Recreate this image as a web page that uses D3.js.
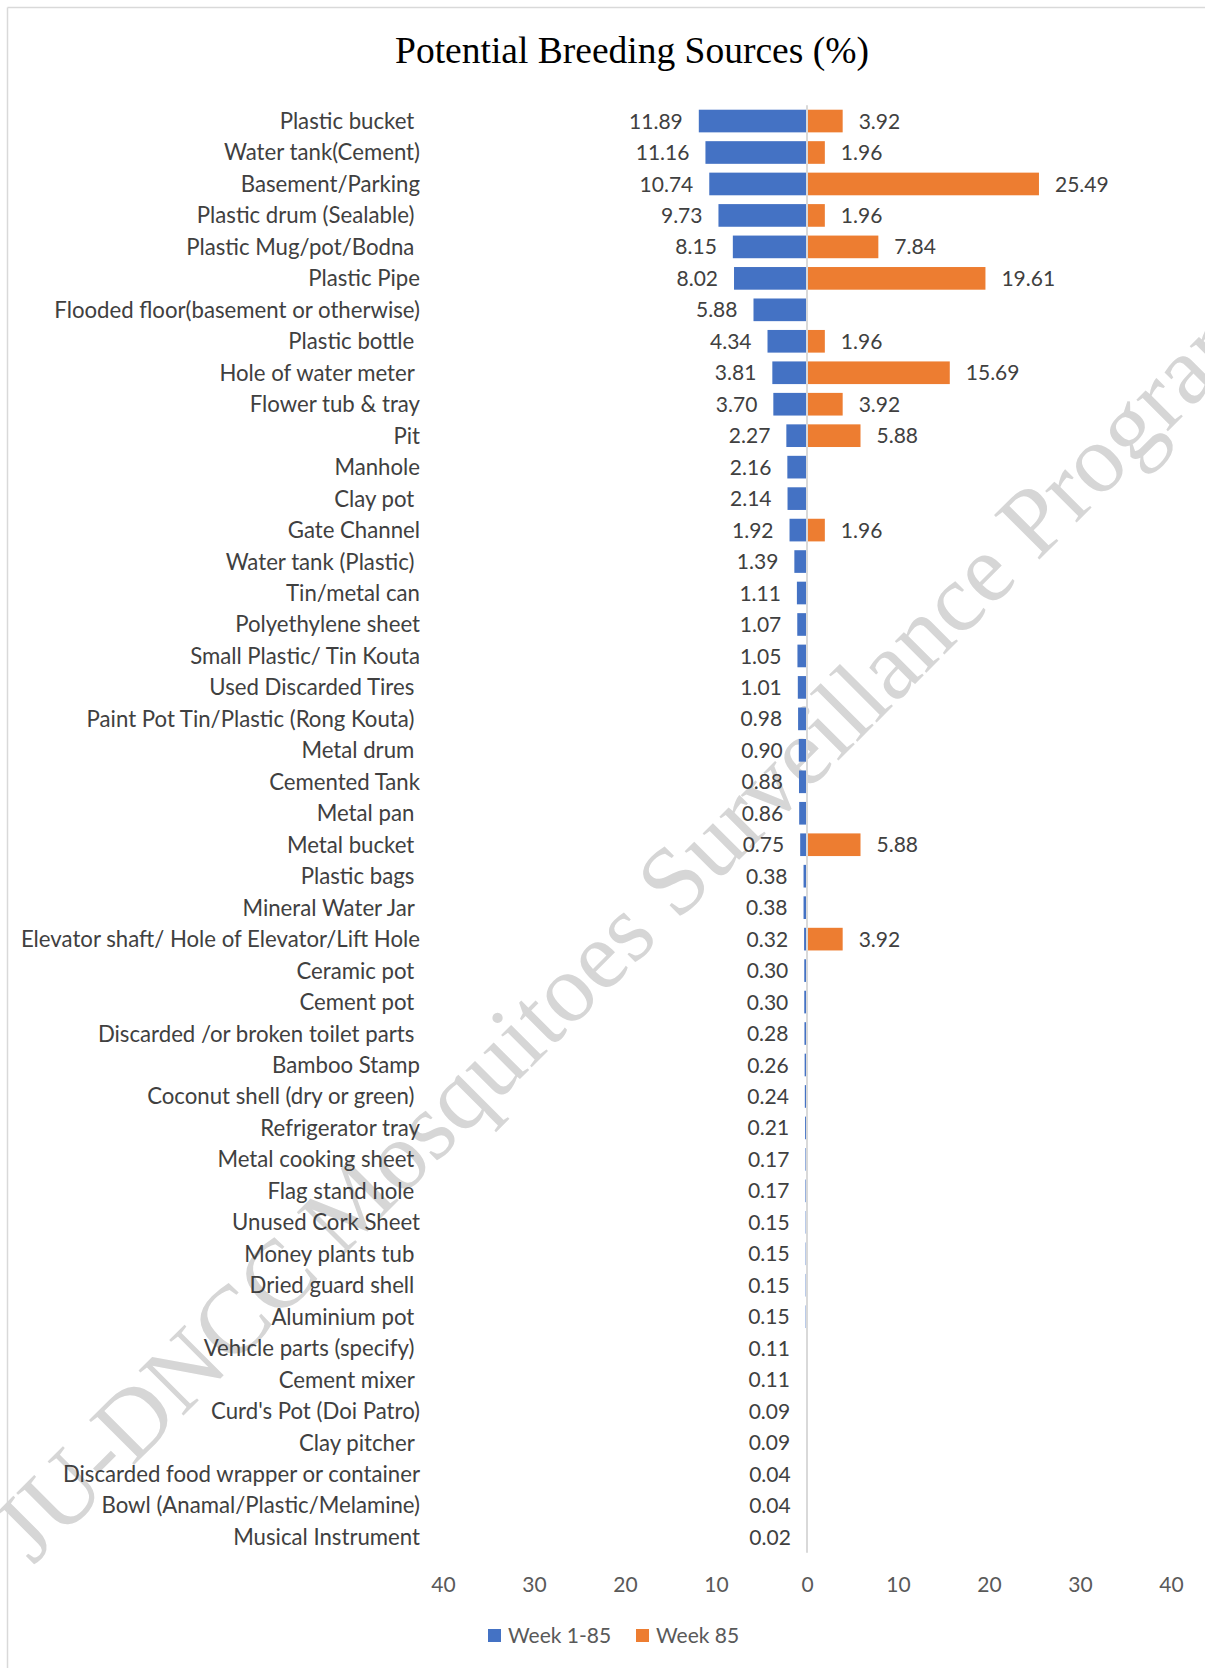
<!DOCTYPE html>
<html>
<head>
<meta charset="utf-8">
<script src="https://cdn.jsdelivr.net/npm/d3@7"></script>
<style>
  html, body { margin: 0; padding: 0; background: #fff; }
  svg { display: block; }
  text { white-space: pre; }
</style>
</head>
<body>
<svg id="chart" width="1205" height="1668"></svg>
<script>
// ---------------------------------------------------------------------------
// Data
// ---------------------------------------------------------------------------

const categories = [
  "Plastic bucket ", "Water tank(Cement)", "Basement/Parking", "Plastic drum (Sealable) ",
  "Plastic Mug/pot/Bodna ", "Plastic Pipe", "Flooded floor(basement or otherwise)",
  "Plastic bottle ", "Hole of water meter ", "Flower tub & tray", "Pit", "Manhole",
  "Clay pot ", "Gate Channel", "Water tank (Plastic) ", "Tin/metal can", "Polyethylene sheet",
  "Small Plastic/ Tin Kouta", "Used Discarded Tires ", "Paint Pot Tin/Plastic (Rong Kouta) ",
  "Metal drum ", "Cemented Tank", "Metal pan ", "Metal bucket ", "Plastic bags ",
  "Mineral Water Jar ", "Elevator shaft/ Hole of Elevator/Lift Hole", "Ceramic pot ",
  "Cement pot ", "Discarded /or broken toilet parts ", "Bamboo Stamp",
  "Coconut shell (dry or green) ", "Refrigerator tray", "Metal cooking sheet ",
  "Flag stand hole ", "Unused Cork Sheet", "Money plants tub ", "Dried guard shell ",
  "Aluminium pot ", "Vehicle parts (specify) ", "Cement mixer ", "Curd's Pot (Doi Patro)",
  "Clay pitcher ", "Discarded food wrapper or container", "Bowl (Anamal/Plastic/Melamine)",
  "Musical Instrument"
];

const week1to85 = [
  11.89, 11.16, 10.74, 9.73, 8.15, 8.02, 5.88, 4.34, 3.81, 3.70, 2.27, 2.16,
  2.14, 1.92, 1.39, 1.11, 1.07, 1.05, 1.01, 0.98, 0.90, 0.88, 0.86, 0.75,
  0.38, 0.38, 0.32, 0.30, 0.30, 0.28, 0.26, 0.24, 0.21, 0.17, 0.17, 0.15,
  0.15, 0.15, 0.15, 0.11, 0.11, 0.09, 0.09, 0.04, 0.04, 0.02
];

const week85 = [
  3.92, 1.96, 25.49, 1.96, 7.84, 19.61, null, 1.96, 15.69, 3.92, 5.88, null,
  null, 1.96, null, null, null, null, null, null, null, null, null, 5.88,
  null, null, 3.92, null, null, null, null, null, null, null, null, null,
  null, null, null, null, null, null, null, null, null, null
];

const tickValues = [-40, -30, -20, -10, 0, 10, 20, 30, 40];
const seriesNames = ["Week 1-85", "Week 85"];
const seriesColors = ["#4472C4", "#ED7D31"];
const titleText = "Potential Breeding Sources (%)";
const watermarkText = "JU-DNCC Mosquitoes Surveillance Program";

// ---------------------------------------------------------------------------
// Layout
// ---------------------------------------------------------------------------

const W = 1205, H = 1668;
const LABEL_RIGHT = 420;
const LABEL_GAP = 16;
const SANS = "Lato, 'Open Sans', sans-serif";

const svg = d3.select("#chart");

// Chart frame (only top and left edges are visible)
svg.append("line")
  .attr("x1", 7.5).attr("x2", W).attr("y1", 7.5).attr("y2", 7.5)
  .attr("stroke", "#d9d9d9").attr("stroke-width", 1.5);
svg.append("line")
  .attr("x1", 7.5).attr("x2", 7.5).attr("y1", 7.5).attr("y2", H)
  .attr("stroke", "#d9d9d9").attr("stroke-width", 1.5);

// Watermark behind everything
svg.append("text")
  .attr("transform", "translate(33,1566) rotate(-45)")
  .attr("font-family", "'Liberation Serif', 'Times New Roman', serif")
  .attr("font-size", 97)
  .attr("fill", "#d6d6d6")
  .text(watermarkText);

// Title
svg.append("text")
  .attr("x", 632).attr("y", 63)
  .attr("text-anchor", "middle")
  .attr("font-family", "'Liberation Serif', 'Times New Roman', serif")
  .attr("font-size", 37.5)
  .attr("fill", "#000")
  .text(titleText);

// Scales
const x = d3.scaleLinear().domain([-40, 40]).range([443, 1171]);
const y = d3.scaleBand()
  .domain(d3.range(categories.length))
  .range([105.3, 1552.7])
  .paddingInner(0.28)
  .paddingOuter(0.14);

const rows = categories.map((c, i) => ({ i, name: c, a: week1to85[i], b: week85[i] }));

// Category labels
svg.append("g")
  .selectAll("text")
  .data(rows)
  .join("text")
  .attr("x", LABEL_RIGHT)
  .attr("y", (d) => y(d.i) + y.bandwidth() / 2)
  .attr("dy", "0.36em")
  .attr("text-anchor", "end")
  .attr("font-family", SANS)
  .attr("font-size", 22.2)
  .attr("fill", "#404040")
  .text((d) => d.name);

// Bars
const bars = svg.append("g");
bars.selectAll("rect.left")
  .data(rows)
  .join("rect")
  .attr("class", "left")
  .attr("x", (d) => x(-d.a))
  .attr("y", (d) => y(d.i))
  .attr("width", (d) => x(0) - x(-d.a))
  .attr("height", y.bandwidth())
  .attr("fill", seriesColors[0]);

bars.selectAll("rect.right")
  .data(rows.filter((d) => d.b != null))
  .join("rect")
  .attr("class", "right")
  .attr("x", x(0))
  .attr("y", (d) => y(d.i))
  .attr("width", (d) => x(d.b) - x(0))
  .attr("height", y.bandwidth())
  .attr("fill", seriesColors[1]);

// Zero axis line
svg.append("line")
  .attr("x1", x(0)).attr("x2", x(0))
  .attr("y1", y.range()[0]).attr("y2", y.range()[1])
  .attr("stroke", "#d9d9d9").attr("stroke-width", 2);

// Value labels
const vals = svg.append("g")
  .attr("font-family", SANS)
  .attr("font-size", 21)
  .attr("fill", "#404040");

vals.selectAll("text.left")
  .data(rows)
  .join("text")
  .attr("class", "left")
  .attr("x", (d) => x(-d.a) - LABEL_GAP)
  .attr("y", (d) => y(d.i) + y.bandwidth() / 2)
  .attr("dy", "0.36em")
  .attr("text-anchor", "end")
  .text((d) => d.a.toFixed(2));

vals.selectAll("text.right")
  .data(rows.filter((d) => d.b != null))
  .join("text")
  .attr("class", "right")
  .attr("x", (d) => x(d.b) + LABEL_GAP)
  .attr("y", (d) => y(d.i) + y.bandwidth() / 2)
  .attr("dy", "0.36em")
  .text((d) => d.b.toFixed(2));

// X axis (tick labels only)
const xAxis = d3.axisBottom(x)
  .tickValues(tickValues)
  .tickSize(0)
  .tickPadding(0)
  .tickFormat((d) => Math.abs(d));

const gx = svg.append("g")
  .attr("transform", "translate(0,1577)")
  .call(xAxis);
gx.select(".domain").remove();
gx.selectAll("text")
  .attr("font-family", SANS)
  .attr("font-size", 21)
  .attr("fill", "#595959");

// Legend
const legend = svg.append("g").attr("transform", "translate(488,1636)");
const legendX = [0, 148];
seriesNames.forEach((name, i) => {
  const item = legend.append("g").attr("transform", `translate(${legendX[i]},0)`);
  item.append("rect")
    .attr("x", 0).attr("y", -7)
    .attr("width", 13).attr("height", 13)
    .attr("fill", seriesColors[i]);
  item.append("text")
    .attr("x", 20).attr("y", 0)
    .attr("dy", "0.35em")
    .attr("font-family", SANS)
    .attr("font-size", 21)
    .attr("fill", "#595959")
    .text(name);
});
</script>
</body>
</html>
